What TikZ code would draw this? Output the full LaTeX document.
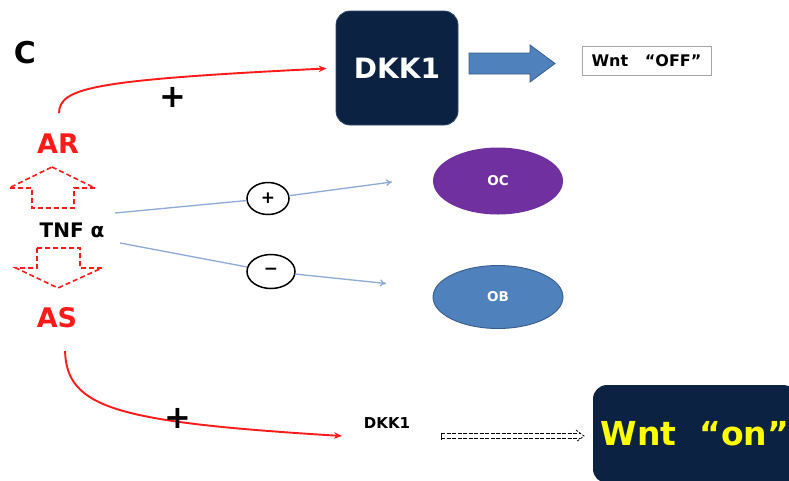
\documentclass[tikz,border=0pt]{standalone}
\usepackage{fontspec}
\setmainfont{DejaVu Sans}
\usetikzlibrary{arrows.meta,shapes.geometric}
\definecolor{navy}{HTML}{0B2243}
\definecolor{navyedge}{HTML}{2E4A72}
\definecolor{oc}{HTML}{7030A0}
\definecolor{ob}{HTML}{4F81BD}
\definecolor{obedge}{HTML}{385D8A}
\definecolor{ltblue}{HTML}{8EAAD6}
\definecolor{myred}{HTML}{FF1A1A}
\definecolor{wyellow}{HTML}{FFFF00}
\newcommand{\fs}[1]{\fontsize{#1}{#1}\selectfont\bfseries}
\tikzset{
  navybox/.style={rounded corners=14pt, fill=navy, draw=navyedge, line width=0.8pt, inner sep=0pt},
  redtxt/.style={text=myred, font=\fs{27}},
  redcurve/.style={draw=myred, line width=1.9pt, -{Stealth[length=8pt,width=6.5pt]}},
  reddash/.style={draw=myred, line width=1.6pt, dash pattern=on 5pt off 3pt},
  bluelink/.style={draw=ltblue, line width=1.3pt},
  bluearrow/.style={bluelink, -{To[length=6pt,width=7pt]}},
  sign/.style={ellipse, draw=black, line width=1.5pt, fill=white, inner sep=0pt, font=\fs{17}},
  cell/.style={ellipse, inner sep=0pt, text=white, font=\fs{13.5}},
  plus/.style={font=\fs{32}, inner sep=0pt}
}
\begin{document}
\begin{tikzpicture}[x=1pt,y=-1pt]
\useasboundingbox[fill=white] (0,0) rectangle (789,480);

% label C
\node[font=\fs{30}, inner sep=0pt] (lblC) at (25,53) {C};

% top DKK1 box
\node[navybox, minimum width=122pt, minimum height=114pt, text=white, font=\fs{28}] (dkkA) at (397,68) {DKK1};

% blue block arrow
\path[fill=ob, draw=obedge, line width=0.8pt]
  (469,53) -- (530,53) -- (530,45) -- (555,63.5) -- (530,82) -- (530,74) -- (469,74) -- cycle;

% Wnt OFF box
\node[draw=gray!70, line width=0.8pt, minimum width=129pt, minimum height=29pt, inner sep=0pt, font=\fs{16}] (woff) at (646.5,60.5) {Wnt\ \ \ “OFF”};

% AR / AS / TNF
\node[redtxt, inner sep=0pt] (AR) at (58,144) {AR};
\node[redtxt, inner sep=0pt] (AS) at (57,318) {AS};
\node[font=\fs{20}, inner sep=0pt] (tnf) at (72,230) {TNF α};

% dashed hollow arrows
\path[reddash] (52,167) -- (95,188) -- (74,188) -- (74,208) -- (32,208) -- (32,188) -- (9,188) -- cycle;
\path[reddash] (37,248) -- (80,248) -- (80,268) -- (102,268) -- (58,288) -- (16,268) -- (37,268) -- cycle;

% red curve to top DKK1
\coordinate (arTop) at (59,113);
\draw[redcurve, shorten >=9pt] (arTop) .. controls (60,88) and (90,80) .. (dkkA.west);
\node[plus] (plusA) at (173,97) {+};

% OC / OB
\node[cell, fill=oc, minimum width=130pt, minimum height=67pt] (OC) at (498,181) {OC};
\node[cell, fill=ob, draw=obedge, line width=0.9pt, minimum width=130pt, minimum height=63pt] (OB) at (498,297) {OB};

% TNF links
\coordinate (tnfU) at (115,213);
\coordinate (tnfD) at (120,243);
\coordinate (ocEnd) at (392,182);
\coordinate (obEnd) at (386,283.5);
\node[sign, minimum width=42pt, minimum height=32pt] (sgnP) at (268,198.5) {+};
\node[sign, minimum width=48pt, minimum height=34pt] (sgnM) at (271,271.5) {−};
\draw[bluelink] (tnfU) -- (sgnP);
\draw[bluearrow] (sgnP) -- (ocEnd);
\draw[bluelink] (tnfD) -- (sgnM);
\draw[bluearrow] (sgnM) -- (obEnd);

% lower DKK1 and Wnt on
\node[font=\fs{15}, inner sep=0pt] (dkkB) at (387,423) {DKK1};
\node[navybox, draw=none, minimum width=204pt, minimum height=98pt, text=wyellow, font=\fs{33}] (won) at (695,434) {Wnt\ \ “on”};

% red curve to lower DKK1
\coordinate (asBot) at (65,351);
\coordinate (asEnd) at (342,436);
\draw[redcurve] (asBot) .. controls (67,408) and (115,422) .. (asEnd);
\node[plus] (plusB) at (178,418) {+};

% dashed double arrow
\coordinate (ddA) at (441,436);
\coordinate (ddB) at (580,436);
\draw[line width=0.8pt, dash pattern=on 4pt off 1.5pt] ([yshift=-2.2pt]ddA) -- ([yshift=-2.2pt]ddB);
\draw[line width=0.8pt, dash pattern=on 4pt off 1.5pt] ([yshift=2.2pt]ddA) -- ([yshift=2.2pt]ddB);
\draw[line width=0.8pt] ([yshift=-3.5pt]ddA) -- ([yshift=3.5pt]ddA);
\draw[line width=0.8pt, dash pattern=on 2.5pt off 1.5pt] ([shift={(-4,-6)}]ddB) -- ([xshift=4pt]ddB) -- ([shift={(-4,6)}]ddB);
\end{tikzpicture}
\end{document}
